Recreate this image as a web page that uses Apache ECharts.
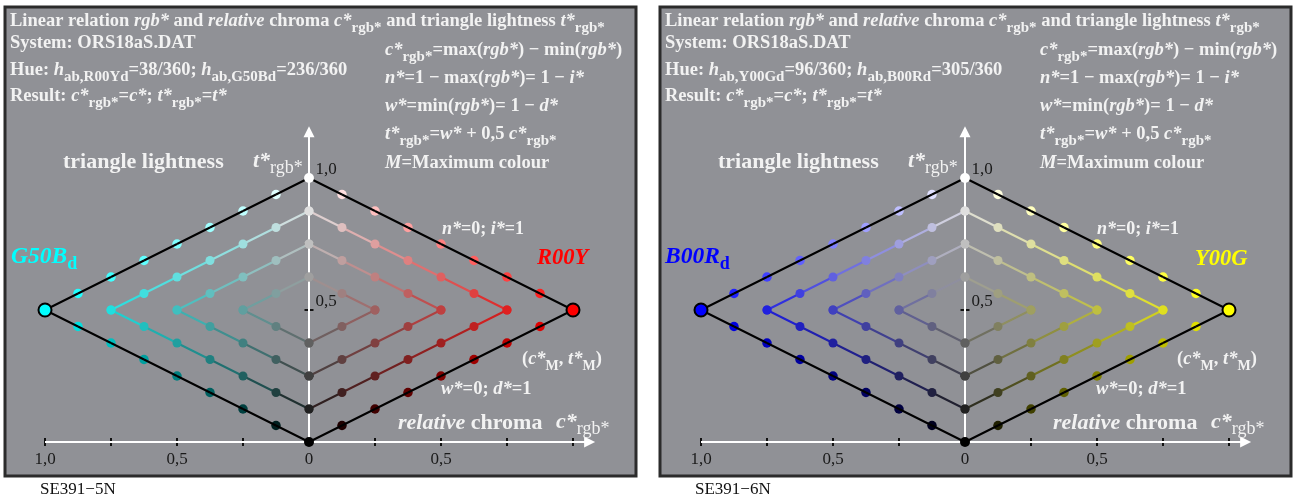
<!DOCTYPE html>
<html><head><meta charset="utf-8">
<script src="https://cdn.jsdelivr.net/npm/echarts@6/dist/echarts.min.js"></script>
<style>html,body{margin:0;padding:0;background:#fff}#c{width:1294px;height:500px}</style>
</head><body><div id="c"></div>
<script>
// ---- data ----
const chromaSteps = [0, 0.125, 0.25, 0.375, 0.5, 0.625, 0.75, 0.875, 1.0];
// triangle lightness t*rgb* of the points on the upper (n* = const) edges of the nested diamonds
const upperT = [
  [1.0, 0.9375, 0.875, 0.8125, 0.75, 0.6875, 0.625, 0.5625, 0.5],
  [0.875, 0.8125, 0.75, 0.6875, 0.625, 0.5625, 0.5],
  [0.75, 0.6875, 0.625, 0.5625, 0.5],
  [0.625, 0.5625, 0.5]
];
// triangle lightness of the points on the lower (w* = const) edges
const lowerT = [
  [0.0, 0.0625, 0.125, 0.1875, 0.25, 0.3125, 0.375, 0.4375, 0.5],
  [0.125, 0.1875, 0.25, 0.3125, 0.375, 0.4375, 0.5],
  [0.25, 0.3125, 0.375, 0.4375, 0.5],
  [0.375, 0.4375, 0.5]
];
const cTicks = [-1, -0.75, -0.5, -0.25, 0, 0.25, 0.5, 0.75, 1];
const cTickLabels = {'-1': '1,0', '-0.5': '0,5', '0': '0', '0.5': '0,5'};
const tTicks = [0.25, 0.5, 0.75, 1.0];
const tTickLabels = ['', '0,5', '', '1,0'];
const cArrowEnd = 1.063;
const tArrowEnd = 1.175;

const panels = [
  {ox: 0, gx: 45, code: 'SE391\u22125N', hue1: ['R00Yd', '38/360'], hue2: ['G50Bd', '236/360'],
   leftName: 'G50B', leftSub: 'd', leftRGB: [0, 255, 255], leftPos: [11, 257],
   rightName: 'R00Y', rightSub: '', rightRGB: [255, 0, 0], rightPos: [537, 258]},
  {ox: 655, gx: 701, code: 'SE391\u22126N', hue1: ['Y00Gd', '96/360'], hue2: ['B00Rd', '305/360'],
   leftName: 'B00R', leftSub: 'd', leftRGB: [0, 0, 255], leftPos: [665, 257],
   rightName: 'Y00G', rightSub: '', rightRGB: [255, 255, 0], rightPos: [1195, 259]}
];

// ---- styles ----
const FF = "'Liberation Serif','Times New Roman',serif";
const TXT = '#f2f2f2';
const BG = '#909196';
function rs(size, weight, style, color, lh, va) {
  return {fontFamily: FF, fontSize: size, fontWeight: weight, fontStyle: style, fill: color, color: color, lineHeight: lh, verticalAlign: va};
}
function richMain(size, sub, color) {
  const lh = size + 10;
  return {
    b: rs(size, 'bold', 'normal', color, lh, 'middle'),
    i: rs(size, 'bold', 'italic', color, lh, 'middle'),
    s: rs(sub, 'bold', 'normal', color, sub, 'bottom'),
    r: rs(sub, 'normal', 'normal', color, sub, 'bottom')
  };
}
function txt(x, y, text, rich) {
  return {type: 'text', x: x, y: y, z: 100, silent: true,
    style: {text: text, rich: rich, align: 'left', verticalAlign: 'middle', textAlign: 'left', textVerticalAlign: 'middle'}};
}
function rgbStr(a) { return 'rgb(' + a.map(v => Math.max(0, Math.min(255, Math.round(v)))).join(',') + ')'; }
function pointColor(c, t, M) {
  const w = t - 0.5 * c;
  return M.map(m => 255 * w + c * m);
}

const graphics = [];
const grids = [], xAxes = [], yAxes = [], series = [];

panels.forEach((p, pi) => {
  const ox = p.ox;
  graphics.push({type: 'rect', z: 0, silent: true, shape: {x: 5 + ox, y: 7, width: 631, height: 469},
    style: {fill: BG, stroke: '#2b2b2b', lineWidth: 3}});
  const R18 = richMain(18.5, 15, TXT);
  graphics.push(txt(10 + ox, 21, '{b|Linear relation }{i|rgb*}{b| and }{i|relative}{b| chroma }{i|c*}{s|rgb*}{b| and triangle lightness }{i|t*}{s|rgb*}', R18));
  graphics.push(txt(10 + ox, 43, '{b|System: ORS18aS.DAT}', R18));
  graphics.push(txt(10 + ox, 70, '{b|Hue: }{i|h}{s|ab,' + p.hue1[0] + '}{b|=' + p.hue1[1] + '; }{i|h}{s|ab,' + p.hue2[0] + '}{b|=' + p.hue2[1] + '}', R18));
  graphics.push(txt(10 + ox, 96, '{b|Result: }{i|c*}{s|rgb*}{b|=}{i|c*}{b|; }{i|t*}{s|rgb*}{b|=}{i|t*}', R18));
  graphics.push(txt(385 + ox, 50, '{i|c*}{s|rgb*}{b|=max(}{i|rgb*}{b|) \u2212 min(}{i|rgb*}{b|)}', R18));
  graphics.push(txt(385 + ox, 78, '{i|n*}{b|=1 \u2212 max(}{i|rgb*}{b|)= 1 \u2212 }{i|i*}', R18));
  graphics.push(txt(385 + ox, 106, '{i|w*}{b|=min(}{i|rgb*}{b|)= 1 \u2212 }{i|d*}', R18));
  graphics.push(txt(385 + ox, 134, '{i|t*}{s|rgb*}{b|=}{i|w*}{b| + 0,5 }{i|c*}{s|rgb*}', R18));
  graphics.push(txt(385 + ox, 163, '{i|M}{b|=Maximum colour}', R18));
  const R22 = richMain(22, 18, TXT);
  graphics.push(txt(63 + ox, 162, '{b|triangle lightness}', R22));
  graphics.push(txt(253 + ox, 161, '{i|t*}{r|rgb*}', R22));
  graphics.push(txt(398 + ox, 423, '{i|relative}{b| chroma}', R22));
  graphics.push(txt(556 + ox, 422, '{i|c*}{r|rgb*}', R22));
  graphics.push(txt(442 + ox, 229, '{i|n*}{b|=0; }{i|i*}{b|=1}', richMain(18, 13, TXT)));
  graphics.push(txt(441 + ox, 389, '{i|w*}{b|=0; }{i|d*}{b|=1}', richMain(18.5, 13, TXT)));
  graphics.push(txt(522 + ox, 359, '{b|(}{i|c*}{s|M}{b|, }{i|t*}{s|M}{b|)}', richMain(18.5, 14, TXT)));
  const lc = rgbStr(p.leftRGB), rc = rgbStr(p.rightRGB);
  graphics.push(txt(p.leftPos[0], p.leftPos[1], '{i|' + p.leftName + '}' + (p.leftSub ? '{s|' + p.leftSub + '}' : ''), richMain(23.5, 18, lc)));
  graphics.push(txt(p.rightPos[0], p.rightPos[1], '{i|' + p.rightName + '}' + (p.rightSub ? '{s|' + p.rightSub + '}' : ''), richMain(22.5, 18, rc)));
  graphics.push({type: 'text', x: 40 + ox, y: 490, z: 100, silent: true,
    style: {text: p.code, font: '17px ' + FF, fill: '#111', textVerticalAlign: 'middle', verticalAlign: 'middle'}});

  grids.push({left: p.gx, top: 178, width: 528, height: 264, containLabel: false});
  xAxes.push({type: 'value', gridIndex: pi, min: -1, max: 1, interval: 0.5,
    axisLine: {show: false}, axisTick: {show: false}, splitLine: {show: false},
    axisLabel: {show: true, margin: 9, color: '#1a1a1a', fontFamily: FF, fontSize: 17,
      formatter: v => (cTickLabels[String(v)] !== undefined ? cTickLabels[String(v)] : '')}});
  yAxes.push({type: 'value', gridIndex: pi, min: 0, max: 1, show: false});

  const base = {xAxisIndex: pi, yAxisIndex: pi, silent: true, clip: false, animation: false};
  // tick marks
  series.push(Object.assign({}, base, {type: 'scatter', z: 1, symbol: 'rect', symbolSize: [2, 8],
    itemStyle: {color: '#111', opacity: 1}, data: cTicks.map(c => [c, 0])}));
  series.push(Object.assign({}, base, {type: 'scatter', z: 1, symbol: 'rect', symbolSize: [9, 2],
    itemStyle: {color: '#111', opacity: 1},
    label: {show: true, position: 'right', distance: 2, offset: [0, -8], color: '#1a1a1a', fontFamily: FF, fontSize: 17,
      formatter: prm => tTickLabels[prm.dataIndex]},
    data: tTicks.map(t => [0, t])}));
  // axis lines with arrows
  series.push(Object.assign({}, base, {type: 'lines', coordinateSystem: 'cartesian2d', z: 2, polyline: false,
    symbol: ['none', 'triangle'], symbolSize: 11,
    lineStyle: {color: '#ffffff', width: 2, opacity: 1},
    data: [{coords: [[-1, 0], [cArrowEnd, 0]]}, {coords: [[0, 0], [0, tArrowEnd]]}]}));

  const innerLines = [], innerDots = [], outerDots = [], outerLines = [], special = [];
  [[-1, p.leftRGB], [1, p.rightRGB]].forEach(([side, M]) => {
    [upperT, lowerT].forEach(edges => {
      edges.forEach((ts, k) => {
        ts.forEach((t, j) => {
          const c = chromaSteps[j];
          const col = rgbStr(pointColor(c, t, M));
          const isEnd = (k === 0 && (j === 0 || j === ts.length - 1));
          if (!isEnd) {
            (k === 0 ? outerDots : innerDots).push({value: [side * c, t], itemStyle: {color: col}});
          }
          if (j < ts.length - 1) {
            const c2 = chromaSteps[j + 1], t2 = ts[j + 1];
            if (k === 0) {
              outerLines.push({coords: [[side * c, t], [side * c2, t2]]});
            } else {
              const a = pointColor(c, t, M), b = pointColor(c2, t2, M);
              innerLines.push({coords: [[side * c, t], [side * c2, t2]], lineStyle: {color: rgbStr(a.map((v, q) => (v + b[q]) / 2))}});
            }
          }
        });
      });
    });
    special.push({value: [side, 0.5], symbolSize: 13, itemStyle: {color: rgbStr(M), borderColor: '#000', borderWidth: 2}});
  });
  special.push({value: [0, 1], symbolSize: 10, itemStyle: {color: '#ffffff'}});
  special.push({value: [0, 0], symbolSize: 10, itemStyle: {color: '#000000'}});

  series.push(Object.assign({}, base, {type: 'lines', coordinateSystem: 'cartesian2d', z: 3, polyline: false,
    lineStyle: {width: 2, opacity: 1}, data: innerLines}));
  series.push(Object.assign({}, base, {type: 'scatter', z: 4, symbolSize: 9, itemStyle: {opacity: 1}, data: innerDots}));
  series.push(Object.assign({}, base, {type: 'scatter', z: 4, symbolSize: 9.5, itemStyle: {opacity: 1}, data: outerDots}));
  series.push(Object.assign({}, base, {type: 'lines', coordinateSystem: 'cartesian2d', z: 5, polyline: false,
    lineStyle: {width: 2, color: '#000', opacity: 1}, data: outerLines}));
  series.push(Object.assign({}, base, {type: 'scatter', z: 6, itemStyle: {opacity: 1}, data: special}));
});

const chart = echarts.init(document.getElementById('c'), null, {renderer: 'canvas'});
chart.setOption({
  animation: false,
  backgroundColor: '#ffffff',
  grid: grids, xAxis: xAxes, yAxis: yAxes, series: series,
  graphic: {elements: graphics}
});
</script></body></html>
